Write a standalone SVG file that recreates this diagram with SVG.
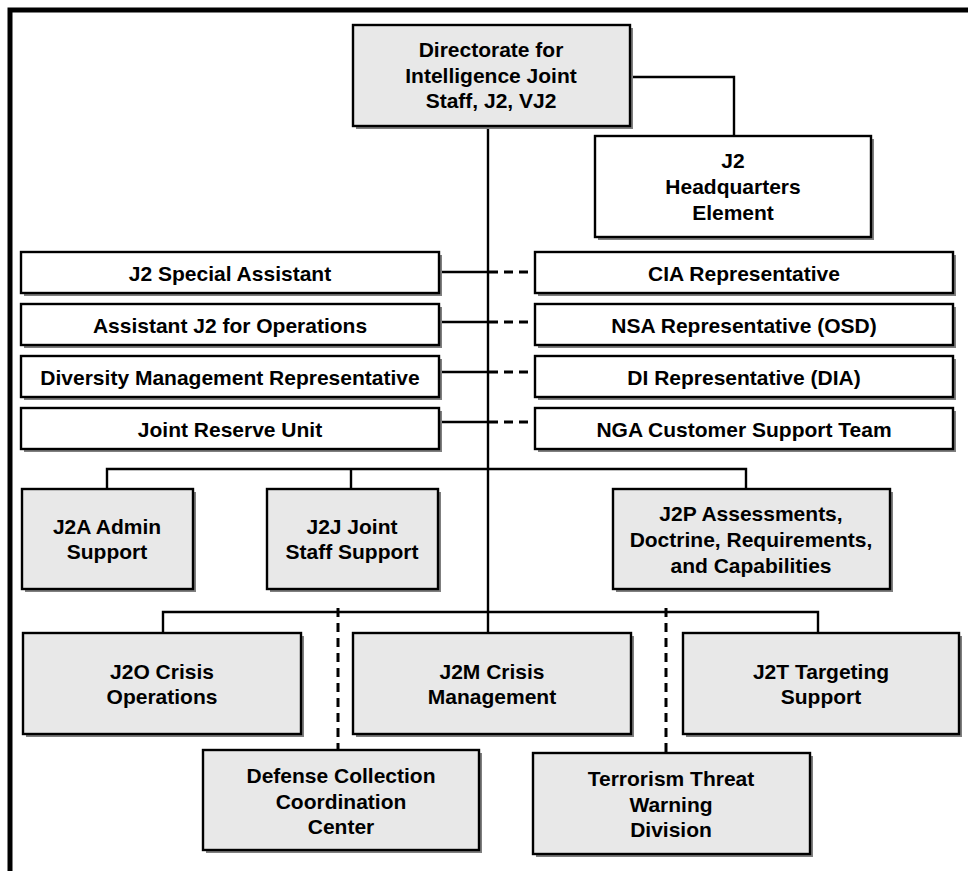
<svg xmlns="http://www.w3.org/2000/svg" width="968" height="871" viewBox="0 0 968 871">
<style>
.sh{fill:#7f7f7f;stroke:none}
.g{fill:#e8e8e8;stroke:#000;stroke-width:2.4}
.w{fill:#fff;stroke:#000;stroke-width:2.4}
text{font-family:"Liberation Sans",Arial,sans-serif;font-weight:bold;font-size:21px;fill:#000;text-anchor:middle}
.c{fill:none;stroke:#000;stroke-width:2.4}
.d{fill:none;stroke:#000;stroke-width:3;stroke-dasharray:9 6}
</style>
<rect x="0" y="0" width="968" height="871" fill="#fff"/>
<path d="M10 871 V10 H968" fill="none" stroke="#000" stroke-width="5"/>
<g id="connectors">
<path class="c" d="M488 126 V633"/>
<path class="c" d="M630 77 H734 V136"/>
<path class="c" d="M439 272 H488 M439 322 H488 M439 372 H488 M439 422 H488"/>
<path class="d" d="M489 272 H535 M489 322 H535 M489 372 H535 M489 422 H535"/>
<path class="c" d="M107 489 V469 H746 V489 M351 469 V489"/>
<path class="c" d="M163 633 V612 H818 V633"/>
<path class="d" d="M338 608 V750 M666 608 V753"/>
</g>
<g id="n-top"><rect class="sh" x="356" y="28" width="277" height="101"/><rect class="g" x="353" y="25" width="277" height="101"/><text x="491" y="57">Directorate for</text><text x="491" y="83">Intelligence Joint</text><text x="491" y="108">Staff, J2, VJ2</text></g>
<g id="n-hq"><rect class="sh" x="598" y="139" width="276" height="101"/><rect class="w" x="595" y="136" width="276" height="101"/><text x="733" y="168">J2</text><text x="733" y="194">Headquarters</text><text x="733" y="220">Element</text></g>
<g id="n-sa"><rect class="sh" x="24" y="255" width="418" height="41"/><rect class="w" x="21" y="252" width="418" height="41"/><text x="230" y="281">J2 Special Assistant</text></g>
<g id="n-ops"><rect class="sh" x="24" y="307" width="418" height="41"/><rect class="w" x="21" y="304" width="418" height="41"/><text x="230" y="333">Assistant J2 for Operations</text></g>
<g id="n-div"><rect class="sh" x="24" y="359" width="418" height="41"/><rect class="w" x="21" y="356" width="418" height="41"/><text x="230" y="385">Diversity Management Representative</text></g>
<g id="n-jru"><rect class="sh" x="24" y="411" width="418" height="41"/><rect class="w" x="21" y="408" width="418" height="41"/><text x="230" y="437">Joint Reserve Unit</text></g>
<g id="n-cia"><rect class="sh" x="538" y="255" width="418" height="41"/><rect class="w" x="535" y="252" width="418" height="41"/><text x="744" y="281">CIA Representative</text></g>
<g id="n-nsa"><rect class="sh" x="538" y="307" width="418" height="41"/><rect class="w" x="535" y="304" width="418" height="41"/><text x="744" y="333">NSA Representative (OSD)</text></g>
<g id="n-di"><rect class="sh" x="538" y="359" width="418" height="41"/><rect class="w" x="535" y="356" width="418" height="41"/><text x="744" y="385">DI Representative (DIA)</text></g>
<g id="n-nga"><rect class="sh" x="538" y="411" width="418" height="41"/><rect class="w" x="535" y="408" width="418" height="41"/><text x="744" y="437">NGA Customer Support Team</text></g>
<g id="n-j2a"><rect class="sh" x="25" y="492" width="171" height="100"/><rect class="g" x="22" y="489" width="171" height="100"/><text x="107" y="534">J2A Admin</text><text x="107" y="559">Support</text></g>
<g id="n-j2j"><rect class="sh" x="270" y="492" width="171" height="100"/><rect class="g" x="267" y="489" width="171" height="100"/><text x="352" y="534">J2J Joint</text><text x="352" y="559">Staff Support</text></g>
<g id="n-j2p"><rect class="sh" x="616" y="492" width="277" height="100"/><rect class="g" x="613" y="489" width="277" height="100"/><text x="751" y="521">J2P Assessments,</text><text x="751" y="547">Doctrine, Requirements,</text><text x="751" y="573">and Capabilities</text></g>
<g id="n-j2o"><rect class="sh" x="26" y="636" width="278" height="101"/><rect class="g" x="23" y="633" width="278" height="101"/><text x="162" y="679">J2O Crisis</text><text x="162" y="704">Operations</text></g>
<g id="n-j2m"><rect class="sh" x="356" y="636" width="278" height="101"/><rect class="g" x="353" y="633" width="278" height="101"/><text x="492" y="679">J2M Crisis</text><text x="492" y="704">Management</text></g>
<g id="n-j2t"><rect class="sh" x="686" y="636" width="276" height="101"/><rect class="g" x="683" y="633" width="276" height="101"/><text x="821" y="679">J2T Targeting</text><text x="821" y="704">Support</text></g>
<g id="n-dccc"><rect class="sh" x="206" y="753" width="276" height="100"/><rect class="g" x="203" y="750" width="276" height="100"/><text x="341" y="783">Defense Collection</text><text x="341" y="809">Coordination</text><text x="341" y="834">Center</text></g>
<g id="n-ttwd"><rect class="sh" x="536" y="756" width="277" height="101"/><rect class="g" x="533" y="753" width="277" height="101"/><text x="671" y="786">Terrorism Threat</text><text x="671" y="812">Warning</text><text x="671" y="837">Division</text></g>
</svg>
